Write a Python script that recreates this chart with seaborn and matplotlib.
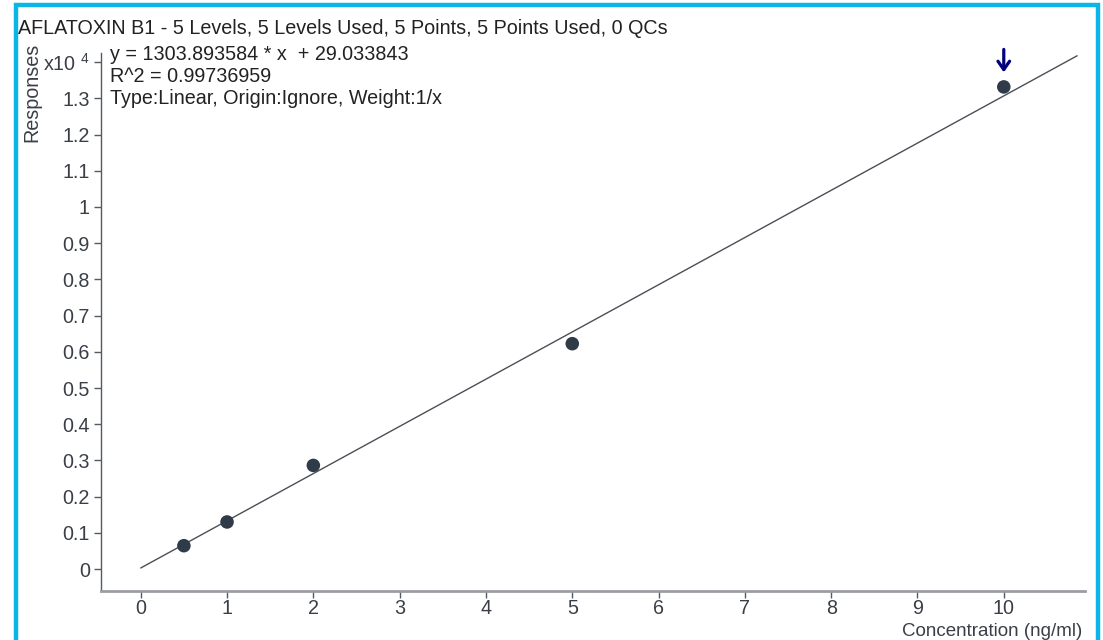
import matplotlib
matplotlib.use('Agg')
import numpy as np
import pandas
import seaborn
from matplotlib import pyplot
from matplotlib.patches import Rectangle

# calibration data
conc = [0.5, 1, 2, 5, 10]
resp = [645, 1300, 2862, 6224, 13316]
slope = 1303.893584
intercept = 29.033843
fit_x = [0, 10.85]
y_ticks = [0, 1000, 2000, 3000, 4000, 5000, 6000, 7000, 8000, 9000, 10000, 11000, 12000, 13000, 14000]
y_labels = ['0', '0.1', '0.2', '0.3', '0.4', '0.5', '0.6', '0.7', '0.8', '0.9', '1', '1.1', '1.2', '1.3', 'x10 $^{4}$']
x_ticks = [0, 1, 2, 3, 4, 5, 6, 7, 8, 9, 10]

title = 'AFLATOXIN B1 - 5 Levels, 5 Levels Used, 5 Points, 5 Points Used, 0 QCs'
info = ['y = 1303.893584 * x  + 29.033843',
        'R^2 = 0.99736959',
        'Type:Linear, Origin:Ignore, Weight:1/x']

seaborn.set_theme(style='white')
pyplot.rcParams['font.family'] = ['Liberation Sans', 'DejaVu Sans']
pyplot.rcParams['mathtext.fontset'] = 'custom'
pyplot.rcParams['mathtext.rm'] = 'Liberation Sans'

TXT = '#3a3f47'
FS = 14.2
pts = pandas.DataFrame({'conc': conc, 'resp': resp})
fit = pandas.DataFrame({'x': fit_x, 'y': [slope * v + intercept for v in fit_x]})

fig = pyplot.figure(figsize=(11.03, 6.4), dpi=100)
ax = fig.add_axes([0.0916, 0.0766, 0.892, 0.841])

seaborn.lineplot(data=fit, x='x', y='y', ax=ax, color='#4a4f57', linewidth=1.0)
seaborn.scatterplot(data=pts, x='conc', y='resp', ax=ax, color='#2f3b48', s=95,
                    edgecolor='none', zorder=3)

ax.annotate('', xy=(conc[-1], resp[-1]), xytext=(0, 27), textcoords='offset points',
            arrowprops=dict(arrowstyle='->,head_width=0.35,head_length=0.5', color='#000080',
                            lw=2.3, shrinkA=0, shrinkB=10.5))

ax.set_xlim(-0.46, 10.94)
ax.set_ylim(-606, 14260)
ax.set_xticks(x_ticks)
ax.set_xticklabels([str(t) for t in x_ticks])
ax.set_yticks(y_ticks)
ax.set_yticklabels(y_labels)
ax.set_xlabel('')
ax.set_ylabel('')
ax.tick_params(axis='both', labelsize=FS, colors='#555a62', labelcolor=TXT, length=5, width=1,
               direction='out', left=True, bottom=True, pad=3)
ax.tick_params(axis='x', length=5, pad=1)

for side in ['top', 'right']:
    ax.spines[side].set_visible(False)
ax.spines['left'].set_color('#555a62')
ax.spines['left'].set_linewidth(1.0)
ax.spines['bottom'].set_color('#9a9ea4')
ax.spines['bottom'].set_linewidth(2.0)

fig.text(18 / 1103, 1 - 28 / 640, title, fontsize=FS, color='#222', va='center', ha='left')
for i, line in enumerate(info):
    fig.text(110 / 1103, 1 - (55 + i * 22) / 640, line, fontsize=FS, color='#222',
             va='center', ha='left')
fig.text(32 / 1103, 1 - 43 / 640, 'Responses', fontsize=FS, color=TXT, rotation=90,
         va='top', ha='center')
fig.text(1082 / 1103, 0, 'Concentration (ng/ml)', fontsize=13.5, color=TXT,
         va='bottom', ha='right')

# cyan frame around the panel
fig.patches.append(Rectangle((16 / 1103, -0.1), 1082 / 1103, 1.1 - 5 / 640,
                             transform=fig.transFigure, fill=False,
                             edgecolor='#0bb5e6', linewidth=3.2))

fig.savefig('out.png', dpi=100)
